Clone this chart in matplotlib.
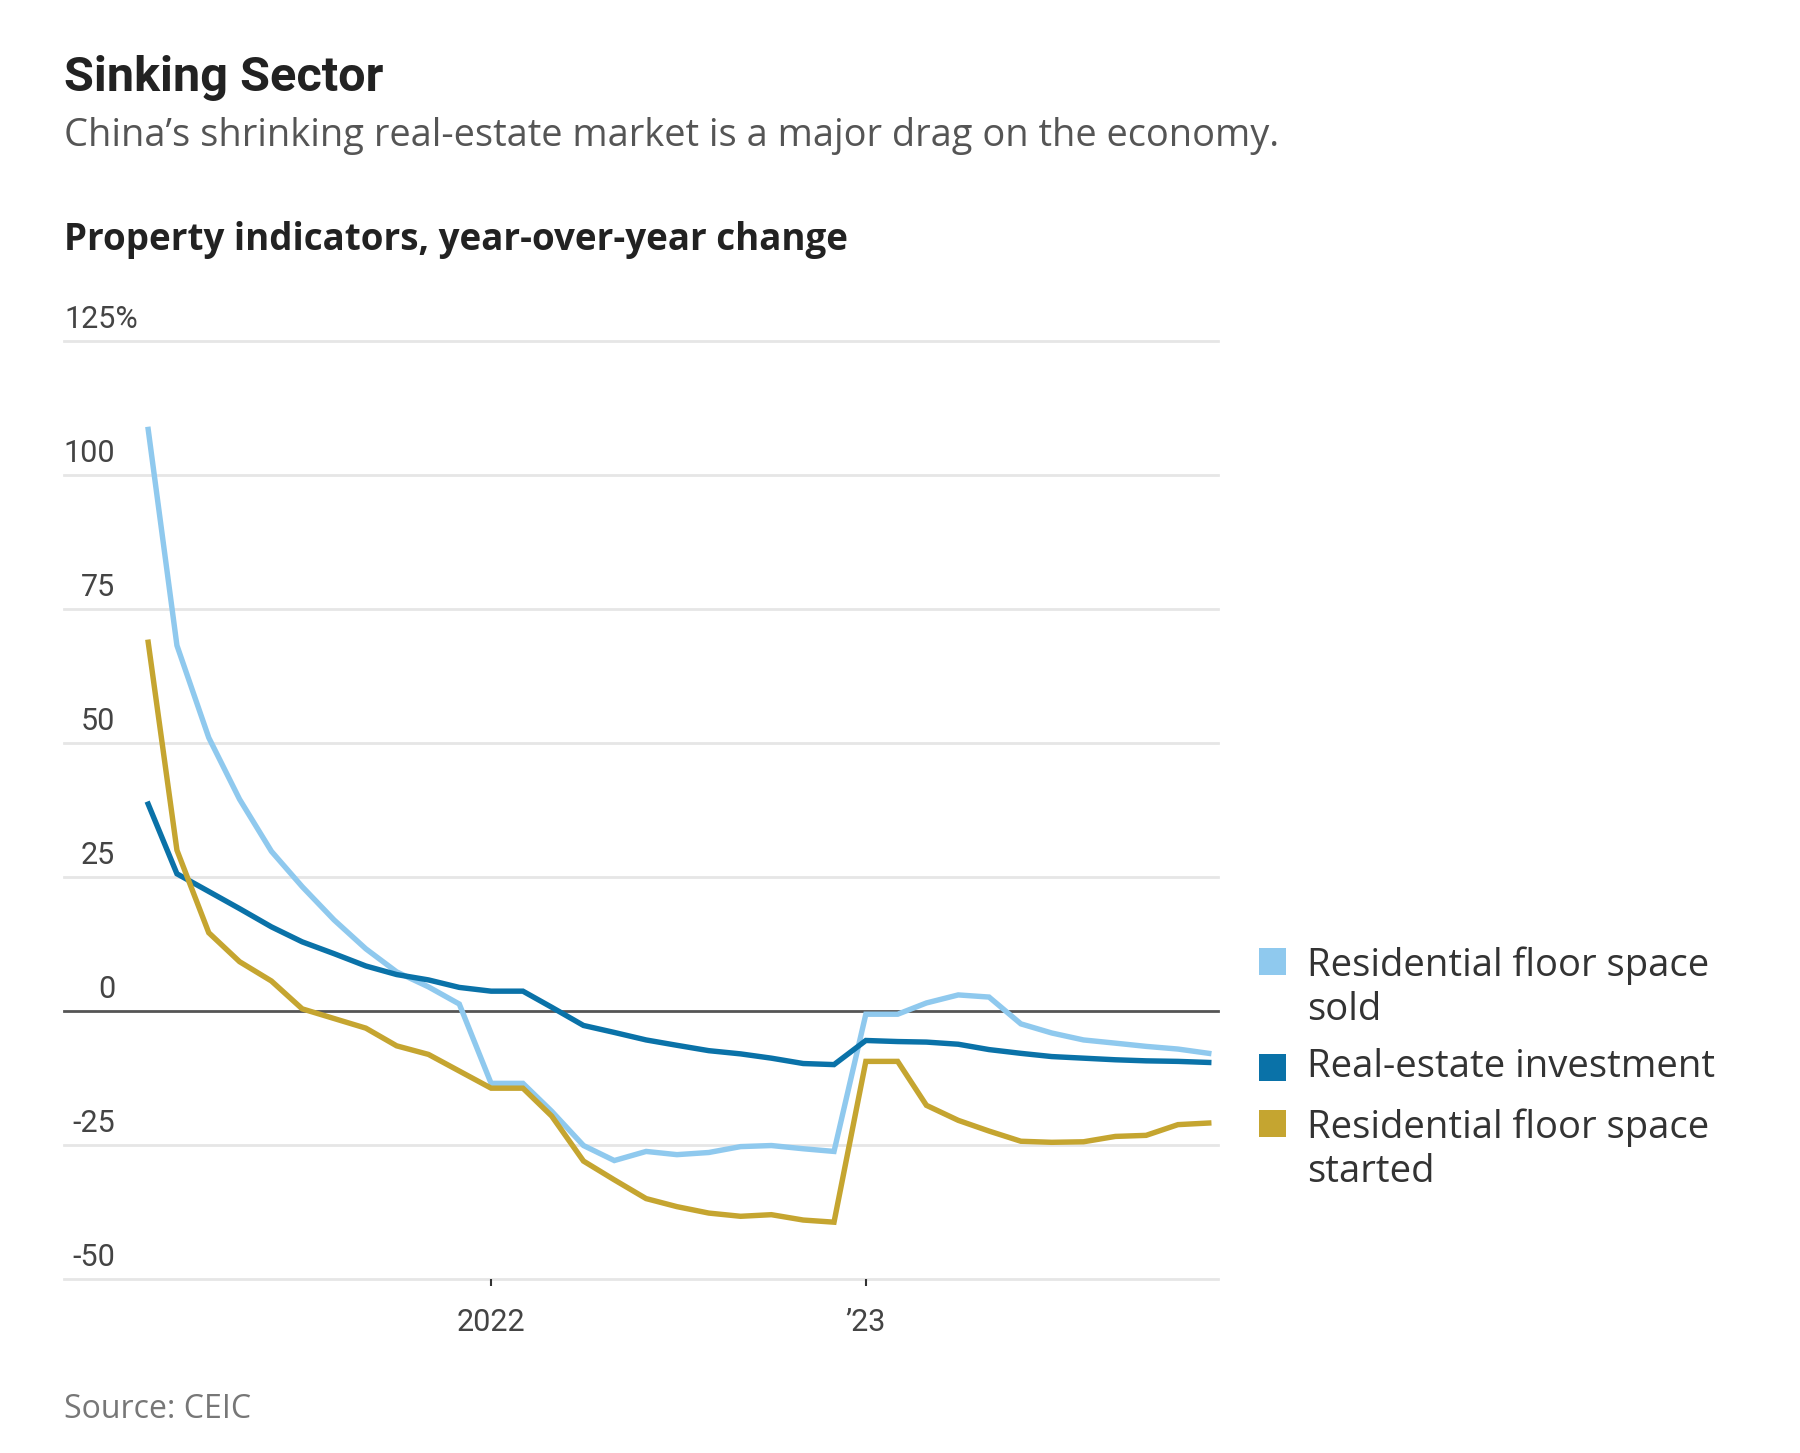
import pandas as pd
import numpy as np
import matplotlib
matplotlib.use("Agg")
import matplotlib.pyplot as plt
from matplotlib.patches import Rectangle

# monthly YTD readings, Feb 2021 - Dec 2023 (Jan repeats the Jan-Feb value)
dates = pd.date_range("2021-02-01", "2023-12-01", freq="MS")

floor_sold = [108.5, 68.2, 51.0, 39.5, 29.8, 23.2, 17.0, 11.6, 7.3, 4.5, 1.3,
              -13.5, -13.5, -18.7, -25.1, -27.9, -26.2, -26.8, -26.4, -25.3, -25.1, -25.7, -26.2,
              -0.6, -0.6, 1.5, 3.0, 2.6, -2.4, -4.1, -5.4, -6.0, -6.6, -7.1, -7.9]
investment = [38.6, 25.6, 22.3, 19.1, 15.7, 12.9, 10.7, 8.4, 6.8, 5.8, 4.4,
              3.7, 3.7, 0.7, -2.7, -4.0, -5.4, -6.4, -7.4, -8.0, -8.8, -9.8, -10.0,
              -5.5, -5.7, -5.8, -6.2, -7.2, -7.9, -8.5, -8.8, -9.1, -9.3, -9.4, -9.6]
floor_started = [68.8, 30.0, 14.6, 9.2, 5.6, 0.4, -1.4, -3.2, -6.5, -8.1, -11.2,
                 -14.4, -14.4, -19.6, -28.0, -31.5, -35.0, -36.5, -37.7, -38.3, -38.0, -39.0, -39.4,
                 -9.4, -9.4, -17.6, -20.4, -22.4, -24.3, -24.5, -24.4, -23.4, -23.2, -21.2, -20.9]

series_names = ["Residential floor space\nsold", "Real-estate investment",
                "Residential floor space\nstarted"]
series_colors = ["#8fc9ee", "#0a72a8", "#c5a530"]

y_ticks = [125, 100, 75, 50, 25, 0, -25, -50]
x_ticks = [pd.Timestamp("2022-01-01"), pd.Timestamp("2023-01-01")]
x_labels = ["2022", "\u201923"]

W, H = 1800, 1453
fig = plt.figure(figsize=(18, 14.53), dpi=100)

narrow = ["Roboto", "DejaVu Sans"]
wide = ["Open Sans", "DejaVu Sans"]
txt_col = "#333333"
tick_col = "#444444"

# axes box in pixels: x 64..1218, y 341 (125) .. 1279 (-50)
ax = fig.add_axes([64 / W, 1 - 1279 / H, (1218 - 64) / W, (1279 - 341) / H])
ax.set_xlim(pd.Timestamp("2020-11-11"), pd.Timestamp("2023-12-10"))
ax.set_ylim(-50, 125)
for s in ax.spines.values():
    s.set_visible(False)

for v in y_ticks:
    if v == 0:
        ax.axhline(v, color="#555555", lw=2.0, zorder=3, clip_on=False)
    else:
        ax.axhline(v, color="#e6e6e6", lw=2.0, zorder=1, clip_on=False)

for vals, col in zip([floor_sold, investment, floor_started], series_colors):
    ax.plot(dates, vals, color=col, lw=3.9, zorder=4, solid_joinstyle="miter")

ax.set_yticks([])
ax.set_xticks(x_ticks)
ax.set_xticklabels(x_labels, fontsize=22, color=tick_col, family=narrow)
ax.tick_params(axis="x", length=5, width=1.5, color="#333333", pad=16)

# y labels sit just above gridlines, right-aligned
for v in y_ticks:
    if v == 125:
        ax.annotate("125%", xy=(0, v), xycoords=ax.get_yaxis_transform(),
                    xytext=(0, 5), textcoords="offset points", ha="left",
                    va="bottom", fontsize=22, color=tick_col, family=narrow)
    else:
        ax.annotate(str(v), xy=(0, v), xycoords=ax.get_yaxis_transform(),
                    xytext=(51 * 0.72, 5), textcoords="offset points",
                    ha="right", va="bottom", fontsize=22, color=tick_col, family=narrow)

# titles
fig.text(64 / W, 1 - 91 / H, "Sinking Sector", fontsize=35, fontweight="bold",
         color="#222222", family=narrow, va="baseline")
fig.text(64 / W, 1 - 146 / H,
         "China\u2019s shrinking real-estate market is a major drag on the economy.",
         fontsize=27.4, color="#555555", family=wide, va="baseline")
fig.text(64 / W, 1 - 250 / H, "Property indicators, year-over-year change",
         fontsize=26.5, fontweight="bold", color="#222222", family=wide, va="baseline")
fig.text(64 / W, 1 - 1418 / H, "Source: CEIC", fontsize=23, color="#777777",
         family=wide, va="baseline")

# legend (baseline of the last line of each entry)
sq_y = [961, 1067, 1123]
base_y = [1020, 1077, 1182]
for name, col, sy, by in zip(series_names, series_colors, sq_y, base_y):
    fig.patches.append(Rectangle((1259 / W, 1 - (sy + 13.5) / H), 27 / W, 27 / H,
                                 transform=fig.transFigure, color=col, lw=0))
    fig.text(1307 / W, 1 - by / H, name, fontsize=27.5, color=txt_col, family=wide,
             va="baseline", linespacing=1.2)

fig.savefig("out.png", dpi=100, facecolor="white")
